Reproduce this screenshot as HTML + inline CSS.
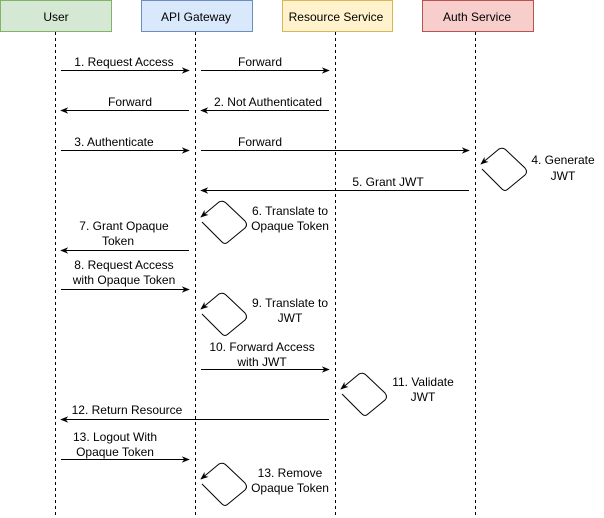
<!DOCTYPE html>
<html><head><style>body{margin:0;background:#fff}svg{display:block;font-family:"Liberation Sans",sans-serif;font-size:12px}</style></head><body>
<svg width="604" height="518" viewBox="0 0 604 518" xmlns="http://www.w3.org/2000/svg">
<defs><marker id="a" viewBox="0 0 10 10" refX="9" refY="5" markerWidth="8" markerHeight="8" orient="auto"><path d="M0,1 L10,5 L0,9 L3,5 Z" fill="#000"/></marker></defs>
<g stroke-width="1">
<rect x="0.5" y="0.5" width="111" height="31" fill="#d5e8d4" stroke="#82b366"/>
<rect x="141.5" y="0.5" width="111" height="31" fill="#dae8fc" stroke="#6c8ebf"/>
<rect x="282.5" y="0.5" width="110" height="31" fill="#fff2cc" stroke="#d6b656"/>
<rect x="422.5" y="0.5" width="111" height="31" fill="#f8cecc" stroke="#b85450"/>
</g>
<g text-anchor="middle" fill="#000">
<text x="56" y="21">User</text><text x="196" y="21">API Gateway</text><text x="336" y="21">Resource Service</text><text x="477" y="21">Auth Service</text>
</g>
<g stroke="#000" stroke-dasharray="3,3">
<line x1="55.5" y1="32" x2="55.5" y2="518"/><line x1="195.5" y1="32" x2="195.5" y2="518"/><line x1="335.5" y1="32" x2="335.5" y2="518"/><line x1="475.5" y1="32" x2="475.5" y2="518"/>
</g>
<g stroke="#000" marker-end="url(#a)">
<line x1="61" y1="70.5" x2="189" y2="70.5"/>
<line x1="201" y1="70.5" x2="329" y2="70.5"/>
<line x1="189" y1="110.5" x2="61" y2="110.5"/>
<line x1="329" y1="110.5" x2="201" y2="110.5"/>
<line x1="61" y1="150.5" x2="189" y2="150.5"/>
<line x1="201" y1="150.5" x2="469" y2="150.5"/>
<line x1="469" y1="190.5" x2="201" y2="190.5"/>
<line x1="189" y1="250.5" x2="61" y2="250.5"/>
<line x1="61" y1="289.5" x2="189" y2="289.5"/>
<line x1="201" y1="369.5" x2="329" y2="369.5"/>
<line x1="329" y1="419.5" x2="61" y2="419.5"/>
<line x1="61" y1="459.5" x2="189" y2="459.5"/>
</g>
<g fill="none" stroke="#000" stroke-linejoin="round" marker-end="url(#a)">
<path d="M202,222 L222,242 Q225,245 228,242 L245,228 Q248,225 245,221 L226,203 Q223,200 219,202 L201,217"/>
<path d="M202,314 L222,334 Q225,337 228,334 L245,320 Q248,317 245,313 L226,295 Q223,292 219,294 L201,309"/>
<path d="M202,484 L222,504 Q225,507 228,504 L245,490 Q248,487 245,483 L226,465 Q223,462 219,464 L201,479"/>
<path d="M482,169 L502,189 Q505,192 508,189 L525,175 Q528,172 525,168 L506,150 Q503,147 499,149 L481,164"/>
<path d="M342,394 L362,414 Q365,417 368,414 L385,400 Q388,397 385,393 L366,375 Q363,372 359,374 L341,389"/>
</g>
<g text-anchor="middle" fill="#000">
<text x="124" y="66">1. Request Access</text>
<text x="260" y="66">Forward</text>
<text x="130" y="106">Forward</text>
<text x="268" y="106">2. Not Authenticated</text>
<text x="114" y="146">3. Authenticate</text>
<text x="260" y="146">Forward</text>
<text x="388" y="186">5. Grant JWT</text>
<text x="563" y="164">4. Generate</text><text x="563" y="180">JWT</text>
<text x="290" y="215">6. Translate to</text><text x="290" y="230">Opaque Token</text>
<text x="124" y="230">7. Grant Opaque</text><text x="118" y="245">Token</text>
<text x="124" y="269">8. Request Access</text><text x="124" y="284">with Opaque Token</text>
<text x="290" y="307">9. Translate to</text><text x="290" y="322">JWT</text>
<text x="262" y="351">10. Forward Access</text><text x="262" y="366">with JWT</text>
<text x="423" y="386">11. Validate</text><text x="423" y="401">JWT</text>
<text x="127" y="414">12. Return Resource</text>
<text x="115" y="441">13. Logout With</text><text x="115" y="456">Opaque Token</text>
<text x="290" y="477">13. Remove</text><text x="290" y="492">Opaque Token</text>
</g>
</svg>
</body></html>
